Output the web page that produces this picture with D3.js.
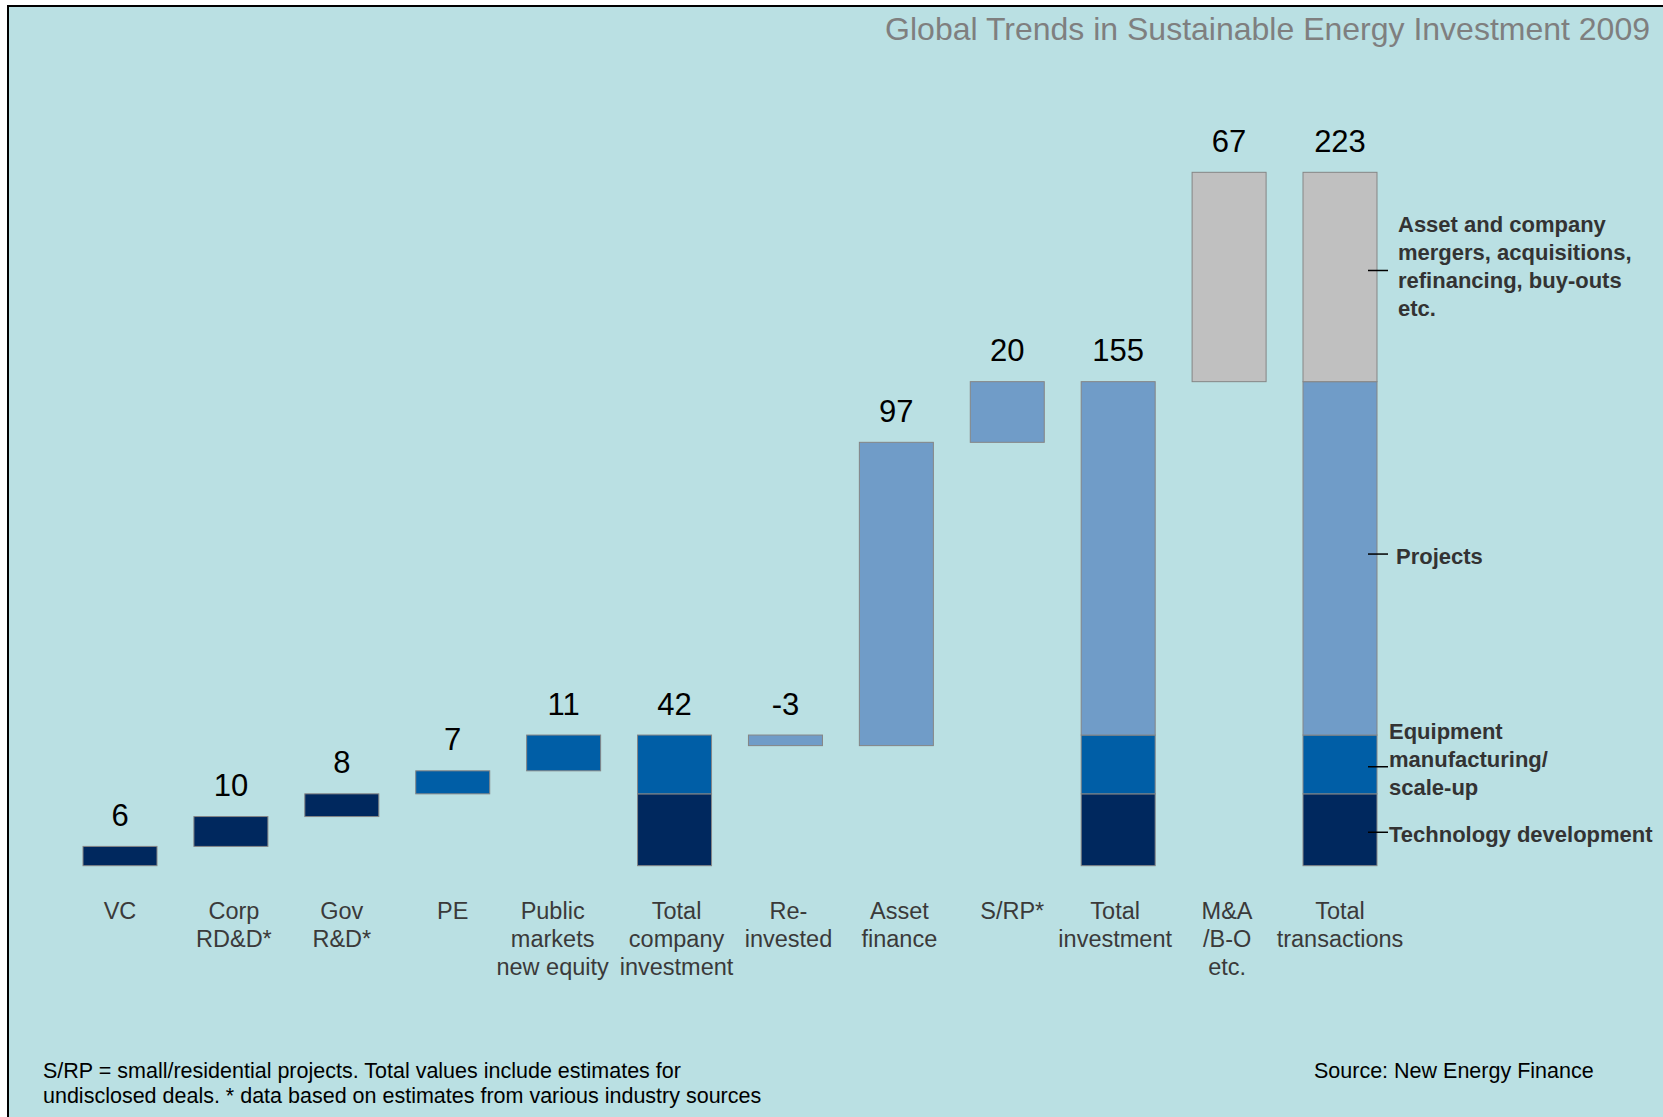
<!DOCTYPE html>
<html>
<head>
<meta charset="utf-8">
<script src="https://cdn.jsdelivr.net/npm/d3@7"></script>
<style>
  body { margin: 0; background: #fff; }
  text { font-family: "Liberation Sans", Arial, sans-serif; }
</style>
</head>
<body>
<div id="chart"></div>
<script>

// category labels, one entry per line
const categoryLines = [
    ["VC"], ["Corp", "RD&D*"], ["Gov", "R&D*"], ["PE"],
    ["Public", "markets", "new equity"], ["Total", "company", "investment"],
    ["Re-", "invested"], ["Asset", "finance"], ["S/RP*"],
    ["Total", "investment"], ["M&A", "/B-O", "etc."], ["Total", "transactions"]
];
const categories = categoryLines.map(l => l.join(" "));

// step values ($bn), null = total column built from the steps before it
const stepValues = [6.2, 9.6, 7.3, 7.4, 11.5, null, -3.4, 97.5, 19.5, null, 67.3, null];
const stepSegment = ["tech", "tech", "tech", "equip", "equip", null, "proj", "proj", "proj", null, "ma", null];
const valueLabels = ["6", "10", "8", "7", "11", "42", "-3", "97", "20", "155", "67", "223"];

// segments
const segmentKeys = ["tech", "equip", "proj", "ma"];
const segmentColors = ["#00285e", "#005ea6", "#709cc8", "#c0c0c0"];
const segmentLabels = [
    ["Technology development"],
    ["Equipment", "manufacturing/", "scale-up"],
    ["Projects"],
    ["Asset and company", "mergers, acquisitions,", "refinancing, buy-outs", "etc."]
];

const title = "Global Trends in Sustainable Energy Investment 2009";
const footnote = ["S/RP = small/residential projects. Total values include estimates for",
                  "undisclosed deals. * data based on estimates from various industry sources"];
const source = "Source: New Energy Finance";

// layout constants
const width = 1663, height = 1117;
const barWidth = 74;
// small hand nudges of category labels (px), as in the original layout
const labelShift = [0, 3, 0, 0, -11, 2, 3, 3, 5, -3, -2, 0];
// annotation nudges: tick offset from segment middle, text offset from tick, text indent
const tickNudge = [2.5, 2.3, -4.3, -6.5];
const textNudge = [9.5, 0, 10, 4];
const textIndent = [12, 12, 19, 21];

const svg = d3.select("#chart").append("svg")
    .attr("width", width)
    .attr("height", height);

// background panel with frame
svg.append("rect")
    .attr("x", 8).attr("y", 6)
    .attr("width", width).attr("height", height)
    .attr("fill", "#bae0e3")
    .attr("stroke", "#000")
    .attr("stroke-width", 2);

// scales
const x = d3.scalePoint().domain(categories).range([120, 1340]);
const y = d3.scaleLinear().domain([0, 223]).range([865.7, 172]);
const color = d3.scaleOrdinal().domain(segmentKeys).range(segmentColors);

// build the waterfall pieces
const bars = [];
const labelTop = [];
const segTotals = {};
segmentKeys.forEach(k => segTotals[k] = 0);
let running = 0;

categories.forEach((c, i) => {
    const v = stepValues[i];
    if (v === null) {
        // stacked total column
        const row = Object.assign({}, segTotals);
        const stacked = d3.stack().keys(segmentKeys)([row]);
        stacked.forEach(s => {
            const d = s[0];
            if (d[1] - d[0] > 0) bars.push({ cat: c, key: s.key, y0: d[0], y1: d[1] });
        });
        labelTop[i] = d3.max(stacked, s => s[0][1]);
    } else {
        const a = running, b = running + v;
        bars.push({ cat: c, key: stepSegment[i], y0: Math.min(a, b), y1: Math.max(a, b) });
        running = b;
        segTotals[stepSegment[i]] += v;
        labelTop[i] = Math.max(a, b);
    }
});

// bars
svg.append("g")
    .selectAll("rect")
    .data(bars)
    .enter().append("rect")
    .attr("x", d => x(d.cat) - barWidth / 2)
    .attr("y", d => y(d.y1))
    .attr("width", barWidth)
    .attr("height", d => y(d.y0) - y(d.y1))
    .attr("fill", d => color(d.key))
    .attr("stroke", "#858585")
    .attr("stroke-width", 1);

// value labels
svg.append("g")
    .selectAll("text")
    .data(categories)
    .enter().append("text")
    .attr("x", d => x(d))
    .attr("y", (d, i) => y(labelTop[i]) - 20.5)
    .attr("text-anchor", "middle")
    .attr("font-size", 31)
    .attr("fill", "#000")
    .text((d, i) => valueLabels[i]);

// category labels
const cat = svg.append("g")
    .selectAll("text")
    .data(categories)
    .enter().append("text")
    .attr("text-anchor", "middle")
    .attr("font-size", 23.5)
    .attr("fill", "#3a3a3a");

cat.selectAll("tspan")
    .data((d, i) => categoryLines[i].map(t => ({ t: t, c: d, i: i })))
    .enter().append("tspan")
    .attr("x", d => x(d.c) + labelShift[d.i])
    .attr("y", (d, j) => 919 + j * 28)
    .text(d => d.t);

// segment annotations next to the last column
const lastCat = categories[categories.length - 1];
const lastBars = bars.filter(b => b.cat === lastCat);
const barRight = x(lastCat) + barWidth / 2;

segmentKeys.forEach((k, i) => {
    const b = lastBars.find(d => d.key === k);
    const ty = (y(b.y0) + y(b.y1)) / 2 + tickNudge[i];
    svg.append("line")
        .attr("x1", barRight - 9).attr("x2", barRight + 11)
        .attr("y1", ty).attr("y2", ty)
        .attr("stroke", "#000")
        .attr("stroke-width", 1.5);
    const n = segmentLabels[i].length;
    svg.append("text")
        .attr("font-size", 22)
        .attr("font-weight", "bold")
        .attr("fill", "#333")
        .selectAll("tspan")
        .data(segmentLabels[i])
        .enter().append("tspan")
        .attr("x", barRight + textIndent[i])
        .attr("y", (d, j) => ty + (j - (n - 1) / 2) * 28 + textNudge[i])
        .text(d => d);
});

// title
svg.append("text")
    .attr("x", 1650).attr("y", 40)
    .attr("text-anchor", "end")
    .attr("font-size", 32)
    .attr("fill", "#7f7f7f")
    .text(title);

// footnote and source
svg.append("text")
    .attr("font-size", 21.5)
    .attr("fill", "#000")
    .selectAll("tspan")
    .data(footnote)
    .enter().append("tspan")
    .attr("x", 43)
    .attr("y", (d, j) => 1078 + j * 25)
    .text(d => d);

svg.append("text")
    .attr("x", 1314).attr("y", 1078)
    .attr("font-size", 21.5)
    .attr("fill", "#000")
    .text(source);

</script>
</body>
</html>
